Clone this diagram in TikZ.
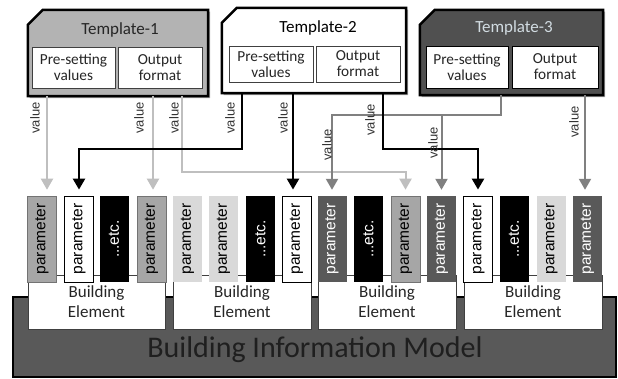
\documentclass[tikz,border=0pt]{standalone}
\usepackage{fontspec}
\usepackage{graphicx}
\setmainfont{Carlito}
\newfontfamily\argfont{Liberation Sans}
\usetikzlibrary{arrows.meta}

\definecolor{tmplgray}{HTML}{B3B3B3}
\definecolor{tmpldark}{HTML}{505050}
\definecolor{wirelight}{HTML}{BFBFBF}
\definecolor{wiredark}{HTML}{808080}
\definecolor{parmid}{HTML}{A6A6A6}
\definecolor{parlight}{HTML}{D9D9D9}
\definecolor{pardark}{HTML}{595959}
\definecolor{bimfill}{HTML}{595959}
\definecolor{titlelight}{HTML}{D2DCE2}
\definecolor{inkdark}{HTML}{262626}

\newcommand{\uptext}[1]{\rotatebox{90}{#1}}

\tikzset{
  tmplbody/.style={rectangle, inner sep=0pt, draw=none},
  tmplframe/.style={line width=2.5pt, draw=black, line join=miter},
  tmplshadow/.style={fill=black!35, draw=none},
  tmpltitle/.style={inner sep=0pt, font=\fontsize{17}{20}\selectfont},
  slot/.style={rectangle, draw=black!75, line width=0.8pt, fill=white, inner sep=0pt,
    align=center, text=inkdark, font=\fontsize{15.3}{16}\selectfont},
  wire/.style={line width=2pt, -{Triangle[length=11pt,width=12pt]}, shorten >=6pt},
  wl/.style={wire, draw=wirelight, color=wirelight},
  wd/.style={wire, draw=wiredark, color=wiredark},
  wb/.style={wire, line width=2.4pt, draw=black, color=black},
  vlabel/.style={inner sep=0pt, text=black!80, font=\argfont\fontsize{13}{13}\selectfont},
  par/.style={rectangle, minimum width=29pt, minimum height=86pt, inner sep=0pt,
    font=\argfont\fontsize{15.5}{16}\selectfont},
  parmidbox/.style={par, fill=parmid, draw=black!55, line width=0.6pt, text=black},
  parwhitebox/.style={par, fill=white, draw=black, line width=0.8pt, text=black},
  paretcbox/.style={par, fill=black, draw=none, text=white},
  parlightbox/.style={par, fill=parlight, draw=none, text=black},
  pardarkbox/.style={par, fill=pardark, draw=none, text=white},
  element/.style={rectangle, minimum height=54pt, inner sep=0pt, fill=white,
    draw=black!75, line width=0.8pt, align=center, text=inkdark,
    font=\fontsize{17}{20}\selectfont},
  bim/.style={rectangle, minimum width=603pt, minimum height=80pt, inner sep=0pt,
    fill=bimfill, draw=black, line width=2pt},
  bimtext/.style={inner sep=0pt, text=black!88, font=\fontsize{30}{32}\selectfont},
}

\begin{document}
\begin{tikzpicture}[x=1pt,y=-1pt]
\useasboundingbox (0,0) rectangle (618,378);

% base model
\node[bim] (bim) at (314.5,337) {};
\node[bimtext] (bimlabel) at (315,350) {Building Information Model};

% building elements
\node[element, minimum width=137pt] (be1) at (96.5,302) {Building\\Element};
\node[element, minimum width=138pt] (be2) at (242,302) {Building\\Element};
\node[element, minimum width=138pt] (be3) at (387,302) {Building\\Element};
\node[element, minimum width=138pt] (be4) at (533,302) {Building\\Element};

% parameters
\node[parmidbox]   (p1)  at (42,239)    {\uptext{parameter}};
\node[parwhitebox] (p2)  at (79,239)    {\uptext{parameter}};
\node[paretcbox]   (p3)  at (114,239)   {\uptext{...etc.}};
\node[parmidbox]   (p4)  at (151.5,239) {\uptext{parameter}};
\node[parlightbox] (p5)  at (187.5,239) {\uptext{parameter}};
\node[parlightbox] (p6)  at (223.5,239) {\uptext{parameter}};
\node[paretcbox]   (p7)  at (260.5,239) {\uptext{...etc.}};
\node[parwhitebox] (p8)  at (296.5,239) {\uptext{parameter}};
\node[pardarkbox]  (p9)  at (332,239)   {\uptext{parameter}};
\node[paretcbox]   (p10) at (368.5,239) {\uptext{...etc.}};
\node[parmidbox]   (p11) at (405.5,239) {\uptext{parameter}};
\node[pardarkbox]  (p12) at (441.5,239) {\uptext{parameter}};
\node[parwhitebox] (p13) at (478,239)   {\uptext{parameter}};
\node[paretcbox]   (p14) at (514,239)   {\uptext{...etc.}};
\node[parlightbox] (p15) at (551,239)   {\uptext{parameter}};
\node[pardarkbox]  (p16) at (587.5,239) {\uptext{parameter}};

% templates
\node[tmplbody, minimum width=180pt, minimum height=86pt] (t1) at (118,53) {};
\node[tmplbody, minimum width=184pt, minimum height=85pt] (t2) at (314,50.5) {};
\node[tmplbody, minimum width=183pt, minimum height=85pt] (t3) at (511.5,52.5) {};

\foreach \t/\c in {t1/tmplgray, t2/white, t3/tmpldark}{
  \fill[tmplshadow] ([shift={(1.8pt,-1.8pt)}]\t.north west) ++(0,-15pt) -- ([shift={(16.8pt,-1.8pt)}]\t.north west)
    -- ([shift={(1.8pt,-1.8pt)}]\t.north east) -- ([shift={(1.8pt,-1.8pt)}]\t.south east)
    -- ([shift={(1.8pt,-1.8pt)}]\t.south west) -- cycle;
  \draw[tmplframe, fill=\c] ([yshift=-15pt]\t.north west) -- ([xshift=15pt]\t.north west)
    -- (\t.north east) -- (\t.south east) -- (\t.south west) -- cycle;
}

\node[tmpltitle, text=inkdark] (t1h) at (120,30) {Template-1};
\node[slot, minimum width=83pt, minimum height=41pt] (t1a) at (73.5,67.5) {Pre-setting\\values};
\node[slot, minimum width=84pt, minimum height=41pt] (t1b) at (160,67.5) {Output\\format};

\node[tmpltitle, text=black] (t2h) at (318,28) {Template-2};
\node[slot, minimum width=84pt, minimum height=36pt] (t2a) at (271,64) {Pre-setting\\values};
\node[slot, minimum width=84pt, minimum height=36pt] (t2b) at (358,64) {Output\\format};

\node[tmpltitle, text=titlelight] (t3h) at (514,28) {Template-3};
\node[slot, draw=black, minimum width=82pt, minimum height=42pt] (t3a) at (467,67) {Pre-setting\\values};
\node[slot, draw=black, minimum width=86pt, minimum height=42pt] (t3b) at (555,67) {Output\\format};

% wire start points on the template edges and bend levels
\coordinate (s1) at (47,0 |- t1.south);
\coordinate (s2) at (153,0 |- t1.south);
\coordinate (s3) at (182,0 |- t1.south);
\coordinate (s4) at (242,0 |- t2.south);
\coordinate (s5) at (293,0 |- t2.south);
\coordinate (s6) at (383,0 |- t2.south);
\coordinate (s7) at (501,0 |- t3.south);
\coordinate (s8) at (585,0 |- t3.south);
\coordinate (hl) at (0,172);
\coordinate (hb) at (0,149);
\coordinate (hd) at (0,115);

% Template-1 values
\draw[wl] (s1) -- (s1 |- p1.north);
\draw[wl] (s2) -- (s2 |- p4.north);
\draw[wl] (s3) -- (s3 |- hl) -| (p11.north);

% Template-3 values
\draw[wd] (s7) -- (s7 |- hd) -| (p9.north);
\draw[wd] (s7 |- hd) -| (p12.north);
\draw[wd] (s8) -- (s8 |- p16.north);

% Template-2 values
\draw[wb] (s4) -- (s4 |- hb) -| (p2.north);
\draw[wb] (s5) -- (s5 |- p8.north);
\draw[wb] (s6) -- (s6 |- hb) -| (p13.north);

% value labels
\node[vlabel] (v1) at (35,118)  {\uptext{value}};
\node[vlabel] (v2) at (139,118) {\uptext{value}};
\node[vlabel] (v3) at (174,118) {\uptext{value}};
\node[vlabel] (v4) at (230,118) {\uptext{value}};
\node[vlabel] (v5) at (283,118) {\uptext{value}};
\node[vlabel] (v6) at (370,120) {\uptext{value}};
\node[vlabel] (v7) at (327,145) {\uptext{value}};
\node[vlabel] (v8) at (433,143) {\uptext{value}};
\node[vlabel] (v9) at (574,122) {\uptext{value}};
\end{tikzpicture}
\end{document}
